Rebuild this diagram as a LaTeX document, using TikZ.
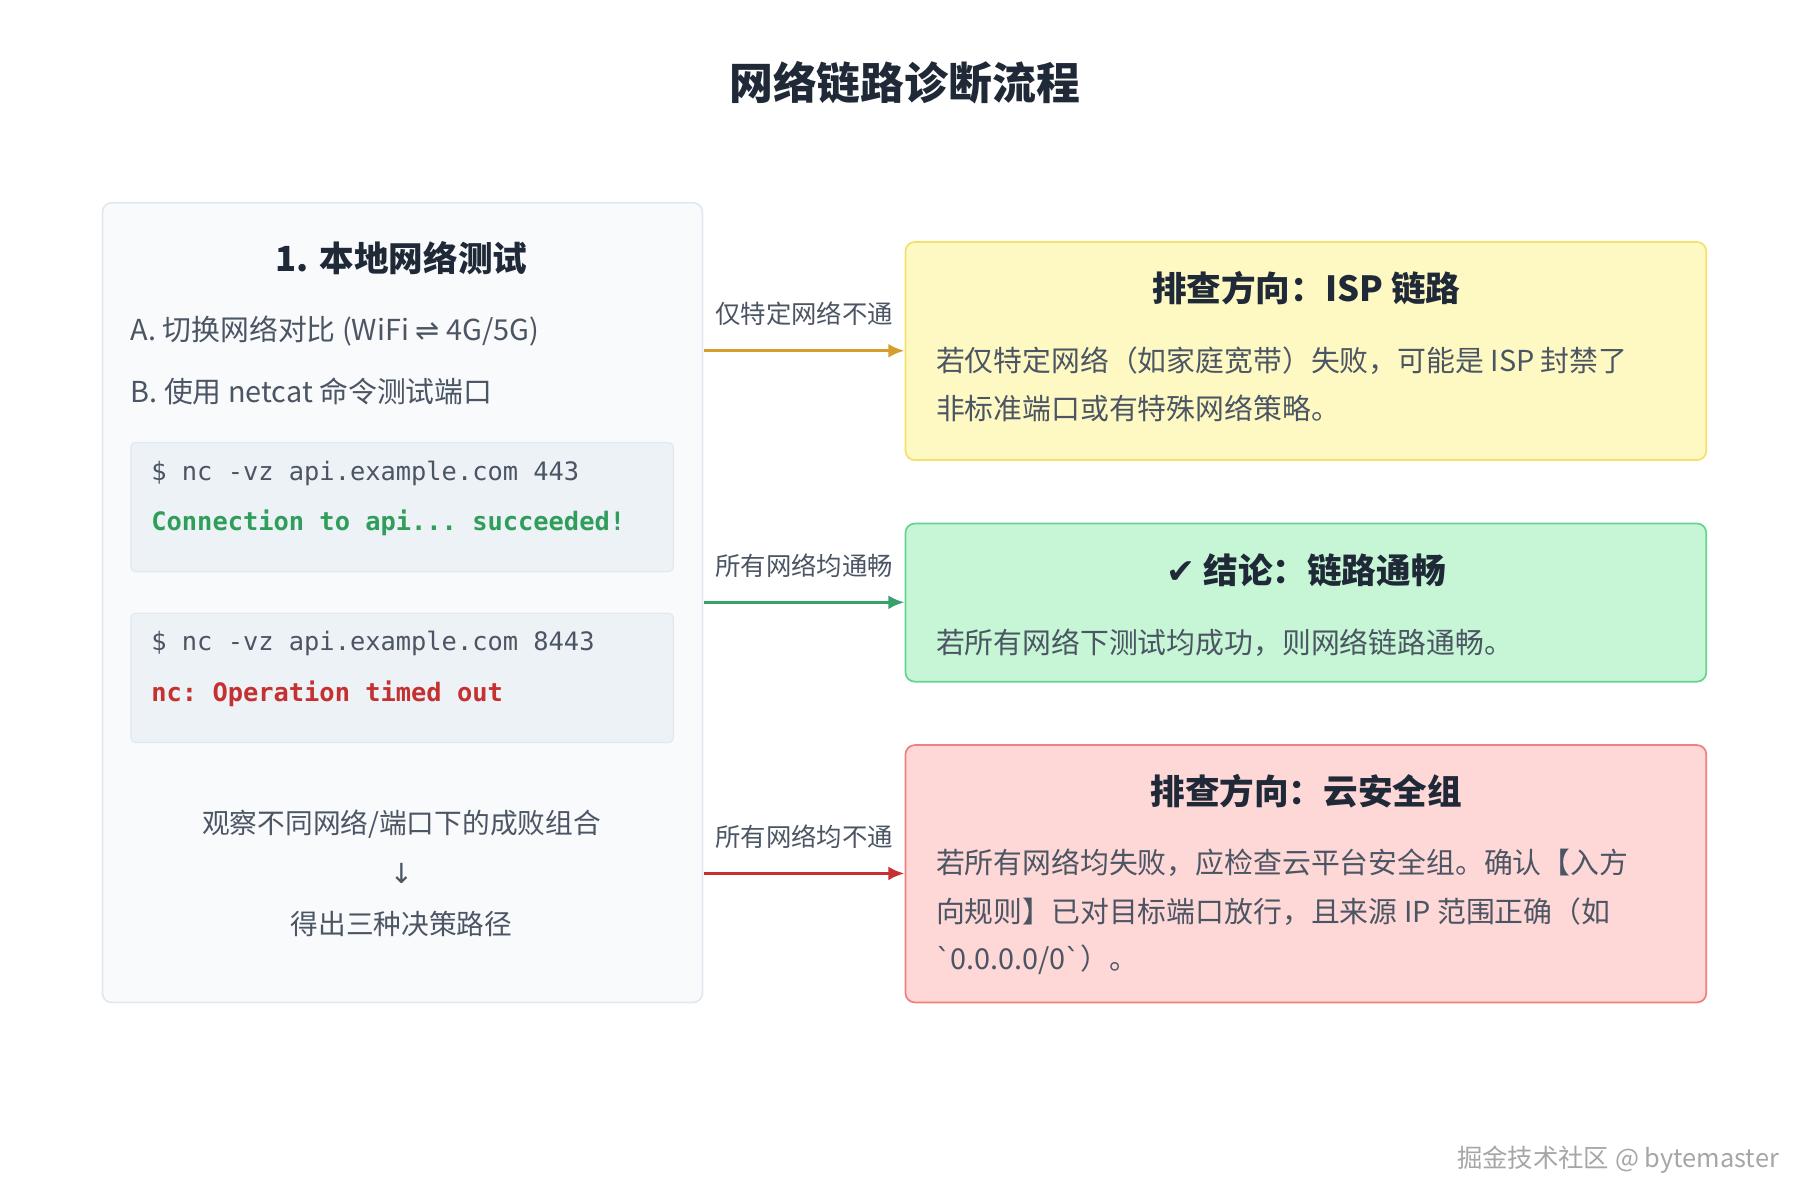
\documentclass[tikz,border=0pt]{standalone}
\usepackage{fontspec}
\setmainfont{Noto Sans CJK SC}
\setmonofont{DejaVu Sans Mono}
\newfontfamily\symfont{DejaVu Sans}
\usetikzlibrary{positioning,arrows.meta}
\definecolor{ink}{HTML}{1F2937}
\definecolor{txt}{HTML}{4B5563}
\definecolor{panelfill}{HTML}{F8FAFC}
\definecolor{panelline}{HTML}{E2E8F0}
\definecolor{codefill}{HTML}{EDF2F7}
\definecolor{okgreen}{HTML}{2F9E5B}
\definecolor{errred}{HTML}{C53030}
\definecolor{ispfill}{HTML}{FEF9C3}
\definecolor{ispline}{HTML}{F5E06A}
\definecolor{passfill}{HTML}{C6F6D5}
\definecolor{passline}{HTML}{68D391}
\definecolor{sgfill}{HTML}{FED7D7}
\definecolor{sgline}{HTML}{F08080}
\definecolor{arrorange}{HTML}{D69E2E}
\definecolor{arrgreen}{HTML}{38A169}
\definecolor{arrred}{HTML}{C53030}

\tikzset{
  box/.style={draw, rounded corners=8pt, line width=1.5pt, anchor=north west, inner sep=0pt},
  code/.style={box, fill=codefill, draw=panelline, line width=1pt, rounded corners=4pt,
    minimum width=470pt, minimum height=112pt},
  line/.style={anchor=west, inner sep=0pt, text=txt, font=\fontsize{25}{30}\selectfont},
  mono/.style={anchor=west, inner sep=0pt, font=\ttfamily\fontsize{22}{26}\selectfont},
  head/.style={inner sep=0pt, text=ink, font=\bfseries\fontsize{30}{36}\selectfont},
  lbl/.style={inner sep=0pt, text=txt, font=\fontsize{22}{26}\selectfont},
  link/.style={line width=3pt, -{Latex[length=14pt,width=12pt]}},
}

\begin{document}
\begin{tikzpicture}[x=1pt, y=-1pt]
    \useasboundingbox (0,0) rectangle (1560,1040);

    % 标题
    \node[inner sep=0pt, text=ink, font=\bfseries\fontsize{38}{44}\selectfont] (title) at (784,72) {网络链路诊断流程};

    % 左侧测试面板
    \node[box, fill=panelfill, draw=panelline, minimum width=520pt, minimum height=693pt] (panel) at (88,175) {};
    \node[head] (step) at (348,224) {1. 本地网络测试};
    \node[line] (stepA) at (113,287) {A. 切换网络对比 (WiFi {\symfont ⇌} 4G/5G)};
    \node[line] (stepB) at (113,339) {B. 使用 netcat 命令测试端口};

    \node[code] (codeA) at (113,383) {};
    \node[mono, text=txt] (cmdA) at (131,410) {\$ nc -vz api.example.com 443};
    \node[mono, text=okgreen, font=\ttfamily\bfseries\fontsize{22}{26}\selectfont] (outA) at (131,453) {Connection to api... succeeded!};

    \node[code] (codeB) at (113,531) {};
    \node[mono, text=txt] (cmdB) at (131,558) {\$ nc -vz api.example.com 8443};
    \node[mono, text=errred, font=\ttfamily\bfseries\fontsize{22}{26}\selectfont] (outB) at (131,601) {nc: Operation timed out};

    \node[lbl, font=\fontsize{24}{28}\selectfont] (observe) at (348,714) {观察不同网络/端口下的成败组合};
    \node[lbl, font=\symfont\fontsize{24}{28}\selectfont] (down) at (348,757) {↓};
    \node[lbl, font=\fontsize{24}{28}\selectfont] (paths) at (348,801) {得出三种决策路径};

    % 右侧结论
    \node[box, fill=ispfill, draw=ispline, minimum width=694pt, minimum height=189pt] (isp) at (784,209) {};
    \node[head] (ispT) at (1132,250) {排查方向：ISP 链路};
    \node[line] (ispA) at (811,313) {若仅特定网络（如家庭宽带）失败，可能是 ISP 封禁了};
    \node[line] (ispB) at (811,354) {非标准端口或有特殊网络策略。};

    \node[box, fill=passfill, draw=passline, minimum width=694pt, minimum height=137pt] (pass) at (784,453) {};
    \node[head] (passT) at (1132,494) {{\symfont ✔} 结论：链路通畅};
    \node[line] (passA) at (811,557) {若所有网络下测试均成功，则网络链路通畅。};

    \node[box, fill=sgfill, draw=sgline, minimum width=694pt, minimum height=223pt] (sg) at (784,645) {};
    \node[head] (sgT) at (1132,686) {排查方向：云安全组};
    \node[line] (sgA) at (811,748) {若所有网络均失败，应检查云平台安全组。确认【入方};
    \node[line] (sgB) at (811,790) {向规则】已对目标端口放行，且来源 IP 范围正确（如};
    \node[line] (sgC) at (811,832) {{\symfont\char"0060}0.0.0.0/0{\symfont\char"0060}）。};

    % 连线
    \coordinate (o1) at (610,304);
    \coordinate (o2) at (610,522);
    \coordinate (o3) at (610,757);
    \draw[link, arrorange] (o1) -- (o1 -| isp.west) node[lbl, midway, above=20pt] {仅特定网络不通};
    \draw[link, arrgreen] (o2) -- (o2 -| pass.west) node[lbl, midway, above=20pt] {所有网络均通畅};
    \draw[link, arrred] (o3) -- (o3 -| sg.west) node[lbl, midway, above=20pt] {所有网络均不通};

    % 水印
    \node[anchor=east, inner sep=0pt, text=gray!70, font=\fontsize{22}{26}\selectfont] (mark) at (1542,1005) {掘金技术社区 @ bytemaster};
\end{tikzpicture}
\end{document}
